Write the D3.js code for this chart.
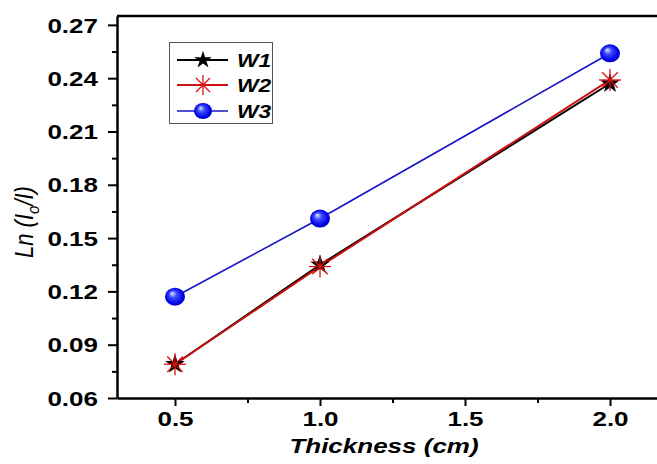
<!DOCTYPE html>
<html>
<head>
<meta charset="utf-8">
<script src="https://cdn.jsdelivr.net/npm/d3@7"></script>
<style>
  body { margin: 0; background: #fff; }
  svg { display: block; }
  text { font-family: "Liberation Sans", Arial, sans-serif; }
</style>
</head>
<body>
<svg width="657" height="464"></svg>
<script>
// data
const thickness = [0.5, 1.0, 2.0];
const w1 = [0.079, 0.135, 0.237];
const w2 = [0.079, 0.134, 0.239];
const w3 = [0.117, 0.161, 0.254];
const seriesNames = ["W1", "W2", "W3"];
const xTicks = [0.5, 1.0, 1.5, 2.0];
const yTicks = [0.06, 0.09, 0.12, 0.15, 0.18, 0.21, 0.24, 0.27];

const svg = d3.select("svg");
const defs = svg.append("defs");
const stretch = 1.3; // the source figure is stretched sideways

const grad = defs.append("radialGradient").attr("id", "ball")
  .attr("cx", "0.5").attr("cy", "0.5").attr("r", "0.55")
  .attr("fx", "0.35").attr("fy", "0.3");
grad.append("stop").attr("offset", "0").attr("stop-color", "#e8ecff");
grad.append("stop").attr("offset", "0.35").attr("stop-color", "#3b4bff");
grad.append("stop").attr("offset", "0.8").attr("stop-color", "#0000e6");
grad.append("stop").attr("offset", "1").attr("stop-color", "#0000a8");

const mLeft = 117, mBottom = 398, mTop = 16, mRight = 697;
const x = d3.scaleLinear().domain([0.3, 2.3]).range([mLeft, mRight]);
const y = d3.scaleLinear().domain([0.06, 0.275]).range([mBottom, mTop]);

// minor ticks
svg.append("g").attr("transform", `translate(0,${mBottom})`)
  .call(d3.axisBottom(x).tickValues([0.75, 1.25, 1.75]).tickSize(5).tickFormat(""))
  .call(g => g.select(".domain").remove())
  .call(g => g.selectAll("line").attr("stroke-width", 2));
svg.append("g").attr("transform", `translate(${mLeft},0)`)
  .call(d3.axisLeft(y).tickValues(d3.range(7).map(i => 0.075 + i * 0.03)).tickSize(5).tickFormat(""))
  .call(g => g.select(".domain").remove())
  .call(g => g.selectAll("line").attr("stroke-width", 2));

// major axes
const xAxis = svg.append("g").attr("transform", `translate(0,${mBottom})`)
  .call(d3.axisBottom(x).tickValues(xTicks).tickSize(8).tickSizeOuter(0).tickPadding(6).tickFormat(d3.format(".1f")));
const yAxis = svg.append("g").attr("transform", `translate(${mLeft},0)`)
  .call(d3.axisLeft(y).tickValues(yTicks).tickSize(9).tickSizeOuter(0).tickPadding(7).tickFormat(d3.format(".2f")));

[xAxis, yAxis].forEach(g => {
  g.select(".domain").attr("stroke-width", 2.5);
  g.selectAll("line").attr("stroke-width", 2);
  g.selectAll("text").attr("font-size", 20).attr("font-weight", "bold").attr("fill", "#000")
    .style("font-family", "'Liberation Sans', Arial, sans-serif");
});
xAxis.selectAll("text").attr("transform", `scale(${stretch},1)`)
  .attr("x", 0);
yAxis.selectAll("text").attr("dy", "0.36em").attr("x", 0)
  .attr("transform", `translate(-19,0) scale(${stretch},1)`);

// top frame line
svg.append("line").attr("x1", mLeft).attr("x2", mRight).attr("y1", mTop).attr("y2", mTop)
  .attr("stroke", "#000").attr("stroke-width", 2.5);

// axis titles
svg.append("text").attr("transform", `translate(384,453) scale(${stretch},1)`)
  .attr("text-anchor", "middle")
  .attr("font-size", 20).attr("font-weight", "bold").attr("font-style", "italic")
  .text("Thickness (cm)");

const yl = svg.append("text").attr("transform", "translate(33,222) scale(1.15,1) rotate(-90)")
  .attr("text-anchor", "middle").attr("font-size", 22).attr("font-style", "italic");
yl.append("tspan").text("Ln (I");
yl.append("tspan").attr("font-size", 15).attr("dy", 5).text("o");
yl.append("tspan").attr("dy", -5).text("/I)");

// marker drawers
const star = d3.symbol(d3.symbolStar);
function drawMarker(g, name, cx, cy, s) {
  if (name === "W1") {
    g.append("path").attr("d", star.size(120 * s * s)())
      .attr("transform", `translate(${cx},${cy})`).attr("fill", "#000");
  } else if (name === "W2") {
    const r = 11 * s;
    const gg = g.append("g").attr("transform", `translate(${cx},${cy})`);
    d3.range(4).forEach(i => {
      const a = i * Math.PI / 4;
      gg.append("line").attr("x1", -r * Math.cos(a)).attr("y1", -r * Math.sin(a))
        .attr("x2", r * Math.cos(a)).attr("y2", r * Math.sin(a))
        .attr("stroke", "#e01010").attr("stroke-width", 1.3);
    });
  } else {
    g.append("ellipse").attr("cx", cx).attr("cy", cy).attr("rx", 10 * s).attr("ry", 9 * s)
      .attr("fill", "url(#ball)");
  }
}

const series = [
  { name: "W1", values: w1, color: "#000", width: 2 },
  { name: "W2", values: w2, color: "#cc1010", width: 2 },
  { name: "W3", values: w3, color: "#1515c8", width: 1.6 }
];

const line = d3.line().x(d => x(d[0])).y(d => y(d[1]));
series.forEach(s => {
  const pts = thickness.map((t, i) => [t, s.values[i]]);
  svg.append("path").datum(pts).attr("d", line)
    .attr("fill", "none").attr("stroke", s.color).attr("stroke-width", s.width);
});
series.forEach(s => {
  const g = svg.append("g");
  thickness.forEach((t, i) => drawMarker(g, s.name, x(t), y(s.values[i]), 1));
});

// legend
const lg = svg.append("g");
lg.append("rect").attr("x", 169.5).attr("y", 42.5).attr("width", 103).attr("height", 81)
  .attr("fill", "#fff").attr("stroke", "#555").attr("stroke-width", 1);
const legendY = [60, 85, 111];
series.forEach((s, i) => {
  const ly = legendY[i];
  lg.append("line").attr("x1", 177).attr("x2", 228).attr("y1", ly).attr("y2", ly)
    .attr("stroke", s.color).attr("stroke-width", s.width);
  drawMarker(lg, s.name, 203, ly, 0.9);
  lg.append("text").attr("transform", `translate(237,${ly + 7}) scale(1.2,1)`)
    .attr("font-size", 19)
    .attr("font-weight", "bold").attr("font-style", "italic").text(seriesNames[i]);
});
</script>
</body>
</html>
